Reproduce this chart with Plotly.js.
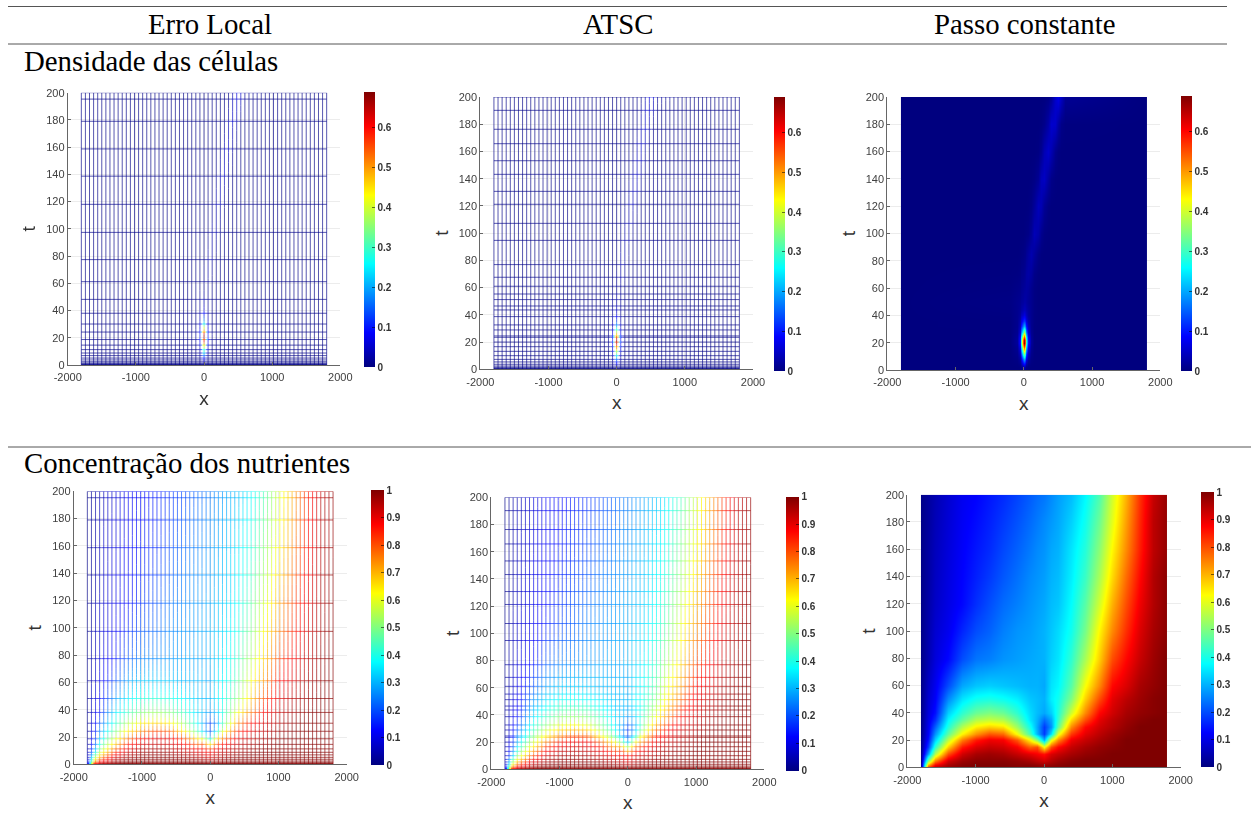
<!DOCTYPE html>
<html><head><meta charset="utf-8">
<script src="https://cdn.plot.ly/plotly-3.0.1.min.js"></script>
<style>html,body{margin:0;padding:0;background:#fff}#g{width:1256px;height:839px}</style>
</head><body><div id="g"></div>
<script>
const columnTitles = ['Erro Local','ATSC','Passo constante'];
const rowTitles = ['Densidade das células','Concentração dos nutrientes'];
const xTickVals = [-2000,-1000,0,1000,2000];
const xTickText = ['-2000','-1000','0','1000','2000'];
const tTickVals = [0,20,40,60,80,100,120,140,160,180,200];

// spatial mesh shown in the adaptive panels
const meshX = [-1800,-1740,-1680,-1620,-1560,-1500,-1440,-1380,-1320,-1260,-1200,-1140,-1080,-1020,-960,-900,-840,-780,-720,-660,-600,-540,-480,-420,-360,-300,-240,-180,-120,-60,0,60,120,180,240,300,360,420,480,540,600,660,720,780,840,900,960,1020,1080,1140,1200,1260,1320,1380,1440,1500,1560,1620,1680,1740,1800];
// time levels of each adaptive method
const timesErroLocal = [0,0.2,0.5,0.9,1.5,2.4,3.7,5.1,6.9,8.8,11.3,14.6,18.7,24.2,30.1,38,48.2,61.2,77.4,97.4,118,138.7,158.7,179,195.3,200];
const timesATSC = [0,0.2,0.5,0.9,1.5,2.4,3.7,5.4,7.3,10,13.2,16.6,20,23.5,24.5,28.9,32.6,38.7,43.6,46.5,51.2,55.3,61,67.6,76.9,94.7,107.2,121.2,130.7,143.2,153.2,165.7,176.3,190.2,200];

// cell density
const densityX = [-1800,-200,-100,-60,-35,-15,0,15,35,60,100,150,200,250,300,350,400,450,500,550,600,1800];
const densityT = [0,2,4,8,12,16,20,22,24,28,32,36,40,44,50,60,70,85,100,120,140,160,180,200];
const densityRows = [
[0,0,0,0,.001,.005,.01,.005,.001,0,0,0,0,0,0,0,0,0,0,0,0,0],
[0,0,0,.001,.006,.02,.03,.02,.006,.001,0,0,0,0,0,0,0,0,0,0,0,0],
[0,0,.001,.005,.02,.055,.07,.055,.02,.005,.001,0,0,0,0,0,0,0,0,0,0,0],
[0,0,.004,.02,.07,.16,.2,.16,.07,.02,.004,0,0,0,0,0,0,0,0,0,0,0],
[0,0,.008,.04,.13,.28,.34,.28,.13,.04,.008,0,0,0,0,0,0,0,0,0,0,0],
[0,0,.012,.07,.22,.43,.52,.43,.22,.07,.012,0,0,0,0,0,0,0,0,0,0,0],
[0,0,.018,.1,.3,.56,.68,.56,.3,.1,.018,0,0,0,0,0,0,0,0,0,0,0],
[0,0,.018,.1,.3,.55,.66,.55,.3,.1,.018,0,0,0,0,0,0,0,0,0,0,0],
[0,0,.016,.09,.26,.46,.55,.46,.26,.09,.016,0,0,0,0,0,0,0,0,0,0,0],
[0,0,.012,.06,.17,.3,.36,.3,.17,.06,.012,0,0,0,0,0,0,0,0,0,0,0],
[0,.001,.01,.04,.1,.17,.2,.17,.1,.04,.01,.001,0,0,0,0,0,0,0,0,0,0],
[0,.001,.01,.03,.065,.105,.12,.105,.065,.03,.01,.002,0,0,0,0,0,0,0,0,0,0],
[0,.002,.01,.02,.04,.055,.065,.055,.04,.02,.01,.002,0,0,0,0,0,0,0,0,0,0],
[0,.003,.01,.016,.025,.035,.04,.038,.03,.02,.01,.003,0,0,0,0,0,0,0,0,0,0],
[0,.004,.01,.013,.018,.022,.026,.026,.022,.016,.01,.003,0,0,0,0,0,0,0,0,0,0],
[0,.002,.006,.008,.012,.016,.018,.02,.022,.02,.01,.003,0,0,0,0,0,0,0,0,0,0],
[0,.001,.002,.004,.008,.01,.012,.016,.022,.026,.02,.006,.001,0,0,0,0,0,0,0,0,0],
[0,0,0,.001,.002,.004,.006,.008,.014,.022,.032,.02,.006,.001,0,0,0,0,0,0,0,0],
[0,0,0,0,0,0,.001,.002,.003,.005,.016,.038,.028,.01,.002,0,0,0,0,0,0,0],
[0,0,0,0,0,0,0,0,0,.001,.005,.018,.04,.034,.014,.003,0,0,0,0,0,0],
[0,0,0,0,0,0,0,0,0,0,.001,.004,.014,.04,.046,.022,.006,.001,0,0,0,0],
[0,0,0,0,0,0,0,0,0,0,0,0,.002,.012,.036,.05,.034,.01,.002,0,0,0],
[0,0,0,0,0,0,0,0,0,0,0,0,0,.002,.008,.026,.052,.05,.024,.006,.001,0],
[0,0,0,0,0,0,0,0,0,0,0,0,0,0,.001,.004,.014,.05,.068,.045,.014,0]
];

// nutrient concentration (one list per x)
const nutrientT = [0,2,5,10,15,20,25,30,35,40,50,60,80,100,120,140,160,180,200];
const nutrientX = [-1800,-1700,-1600,-1400,-1200,-1000,-800,-600,-400,-200,-100,0,100,200,400,600,800,1000,1200,1400,1600,1800];
const nutrientColumns = [
[0,.03,.02,.02,.015,.015,.01,.01,.01,.01,.01,.01,.01,.01,.01,.01,.01,.01,.01],
[.85,.7,.5,.28,.18,.14,.12,.11,.1,.09,.08,.07,.05,.045,.04,.035,.035,.03,.03],
[.95,.88,.75,.55,.42,.33,.27,.22,.17,.14,.12,.11,.09,.08,.07,.065,.06,.055,.05],
[.98,.96,.92,.8,.67,.56,.47,.41,.37,.33,.26,.2,.13,.11,.1,.095,.09,.085,.08],
[1,.99,.97,.92,.85,.75,.63,.55,.47,.42,.35,.29,.2,.16,.13,.125,.12,.115,.11],
[1,1,.99,.96,.91,.85,.73,.64,.55,.48,.39,.32,.24,.2,.17,.155,.145,.135,.125],
[1,1,.99,.97,.93,.89,.79,.67,.57,.5,.4,.33,.25,.22,.2,.18,.165,.155,.145],
[1,1,.99,.96,.92,.88,.77,.65,.55,.48,.385,.32,.27,.25,.23,.21,.195,.18,.165],
[1,.99,.98,.93,.88,.79,.62,.53,.47,.42,.36,.31,.28,.27,.25,.235,.22,.205,.19],
[1,.99,.96,.9,.78,.63,.44,.39,.35,.34,.32,.3,.29,.28,.27,.26,.245,.23,.215],
[1,.98,.94,.88,.8,.5,.3,.29,.3,.31,.31,.3,.295,.29,.28,.27,.26,.245,.23],
[.99,.97,.92,.86,.62,.3,.18,.18,.23,.29,.3,.29,.3,.3,.29,.28,.27,.26,.24],
[1,.98,.95,.91,.8,.6,.35,.27,.29,.33,.36,.35,.33,.32,.31,.3,.29,.275,.26],
[1,.99,.97,.93,.87,.74,.6,.47,.43,.41,.39,.37,.35,.34,.32,.31,.3,.29,.28],
[1,1,.99,.96,.93,.89,.82,.74,.66,.58,.5,.46,.42,.39,.375,.36,.35,.33,.31],
[1,1,1,.98,.96,.93,.9,.87,.8,.74,.67,.62,.54,.49,.46,.43,.41,.39,.37],
[1,1,1,.99,.98,.96,.94,.92,.9,.87,.8,.74,.67,.63,.58,.54,.51,.48,.45],
[1,1,1,1,.99,.98,.97,.95,.94,.92,.9,.87,.8,.74,.7,.66,.63,.6,.58],
[1,1,1,1,1,1,.99,.98,.97,.96,.94,.91,.87,.83,.8,.77,.74,.72,.7],
[1,1,1,1,1,1,1,1,.99,.98,.97,.96,.93,.91,.89,.87,.85,.84,.83],
[1,1,1,1,1,1,1,1,1,.99,.99,.98,.97,.96,.95,.95,.94,.94,.93],
[1,1,1,1,1,1,1,1,1,1,1,1,1,.99,.99,.99,.98,.98,.98]
];
const densityMax = 0.69;
const nutrientMax = 1;

const W = 1256, H = 839;
const jetStops = [[0,[0,0,127]],[.125,[0,0,255]],[.375,[0,255,255]],[.625,[255,255,0]],[.875,[255,0,0]],[1,[127,0,0]]];
const jet = jetStops.map(s=>[s[0],'rgb('+s[1].join(',')+')']);
const nutrientRows = nutrientT.map((_,j)=>nutrientColumns.map(c=>c[j]));

// pixel frames: plot left,right,top,bottom; colourbar left,width,top,bottom
const frames = [
 {l:67.7,r:340.3,t:92.7,b:365,  cl:364.3,cw:11.4,ct:92.3,cb:367,  f:'d',mesh:timesErroLocal},
 {l:480.3,r:753,t:97,b:369.3,   cl:774.3,cw:11.4,ct:96.7,cb:371,  f:'d',mesh:timesATSC},
 {l:887.3,r:1160.3,t:97,b:370,  cl:1180.7,cw:11.4,ct:96,cb:371,   f:'d',mesh:null},
 {l:73.7,r:346.7,t:491.3,b:764.3, cl:371,cw:12.7,ct:490.7,cb:765.3, f:'n',mesh:timesErroLocal},
 {l:491.3,r:764.3,t:497.3,b:769.3, cl:786.3,cw:13,ct:496.7,cb:770.7, f:'n',mesh:timesATSC},
 {l:907.3,r:1180.7,t:494.7,b:767.3, cl:1201,cw:13,ct:492.7,cb:767.3, f:'n',mesh:null}
];

// repeat the outer samples just inside the edge so the image stops at the domain limits
const padAxis = a => [a[0], a[0]+0.01].concat(a.slice(1,-1), [a[a.length-1]-0.01, a[a.length-1]]);
const padRow = r => [r[0], r[0]].concat(r.slice(1,-1), [r[r.length-1], r[r.length-1]]);
const padGrid = rows => padRow(rows.map(padRow));

function seek(a,v){let i=0;while(i<a.length-2&&a[i+1]<v)i++;return [i,Math.max(0,Math.min(1,(v-a[i])/(a[i+1]-a[i])))];}
function sample(X,T,Z,x,t){
  const [i,u]=seek(X,x),[j,w]=seek(T,t);
  return (1-w)*((1-u)*Z[j][i]+u*Z[j][i+1])+w*((1-u)*Z[j+1][i]+u*Z[j+1][i+1]);
}
function jetColor(f,alpha){
  let k=0;while(k<jetStops.length-2&&jetStops[k+1][0]<f)k++;
  const a=jetStops[k],b=jetStops[k+1],u=(f-a[0])/(b[0]-a[0]);
  const c=a[1].map((v,n)=>Math.round(v+(b[1][n]-v)*u));
  return 'rgba('+c.join(',')+','+alpha+')';
}
const LEVELS = 64;
// one line trace per colour level; every mesh line is cut where its level changes
function meshTraces(X,T,Z,zmax,times,xk,yk){
  const bins=[...Array(LEVELS)].map(()=>({x:[],y:[]}));
  const walk=pts=>{
    let run=null,lev=-1;
    pts.forEach((p,n)=>{
      const m=n<pts.length-1?[(p[0]+pts[n+1][0])/2,(p[1]+pts[n+1][1])/2]:p;
      const l=Math.min(LEVELS-1,Math.floor(sample(X,T,Z,m[0],m[1])/zmax*LEVELS));
      if(l!==lev||n===pts.length-1){
        if(run){run.x.push(p[0],null);run.y.push(p[1],null);}
        if(n<pts.length-1){run=bins[l];run.x.push(p[0]);run.y.push(p[1]);lev=l;}
      }
    });
  };
  times.forEach(t=>{
    const pts=[];
    for(let i=0;i<meshX.length-1;i++){pts.push([meshX[i],t]);pts.push([(meshX[i]+meshX[i+1])/2,t]);}
    pts.push([meshX[meshX.length-1],t]);walk(pts);
  });
  meshX.forEach(x=>{
    const pts=[];
    for(let j=0;j<times.length-1;j++){
      const steps=Math.max(1,Math.ceil((times[j+1]-times[j])/2.5));
      for(let s=0;s<steps;s++)pts.push([x,times[j]+(times[j+1]-times[j])*s/steps]);
    }
    pts.push([x,times[times.length-1]]);walk(pts);
  });
  return bins.map((b,l)=>b.x.length?{type:'scatter',mode:'lines',xaxis:xk,yaxis:yk,x:b.x,y:b.y,hoverinfo:'skip',
    line:{color:jetColor((l+.5)/LEVELS,.66),width:1,simplify:false},connectgaps:false,showlegend:false}:null).filter(Boolean);
}

const traces = [];
const layout = {
  width:W, height:H, margin:{l:0,r:0,t:0,b:0}, paper_bgcolor:'#fff', plot_bgcolor:'#fff',
  showlegend:false, shapes:[], annotations:[],
  font:{family:'"Liberation Sans", Arial, sans-serif',color:'#404040'}
};

frames.forEach((p,i)=>{
  const n = i+1, xk = n===1?'x':'x'+n, yk = n===1?'y':'y'+n;
  const isD = p.f==='d';
  const X=isD?densityX:nutrientX, T=isD?densityT:nutrientT, Z=isD?densityRows:nutrientRows, zmax=isD?densityMax:nutrientMax;
  traces.push({
    type:'heatmap', xaxis:xk, yaxis:yk, zsmooth:'best', hoverinfo:'skip',
    opacity:p.mesh?0:1,
    x:padAxis(X), y:padAxis(T), z:padGrid(Z),
    zmin:0, zmax, colorscale:jet,
    colorbar:{x:p.cl/W, xanchor:'left', xpad:0, ypad:0, thicknessmode:'pixels', thickness:p.cw,
      lenmode:'fraction', len:(p.cb-p.ct)/H, y:1-p.cb/H, yanchor:'bottom',
      outlinewidth:0, ticks:'inside', ticklen:3, tickwidth:1, tickcolor:'rgba(0,0,0,.55)',
      tick0:0, dtick:.1, tickfont:{size:10,color:'#333',family:'"Liberation Sans", Arial, sans-serif',weight:700}}
  });
  if(p.mesh) traces.push(...meshTraces(X,T,Z,zmax,p.mesh,xk,yk));
  const ax = {showline:true, linecolor:'#666', linewidth:1, showgrid:true, gridcolor:'#ececec', gridwidth:1,
    ticks:'inside', ticklen:3, tickcolor:'#666', zeroline:false, fixedrange:true, tickfont:{size:11,color:'#404040'}};
  layout['xaxis'+(n===1?'':n)] = Object.assign({},ax,{domain:[p.l/W,p.r/W], anchor:yk, range:[-2000,2000],
    tickmode:'array', tickvals:xTickVals, ticktext:xTickText, ticklabelstandoff:2,
    title:{text:'x',font:{size:19,color:'#333'},standoff:9}});
  layout['yaxis'+(n===1?'':n)] = Object.assign({},ax,{domain:[1-p.b/H,1-p.t/H], anchor:xk, range:[0,200],
    tickmode:'array', tickvals:tTickVals, ticktext:tTickVals.map(String),
    title:{text:'t',font:{size:19,color:'#333'},standoff:5}});
});

const hline = (x0,x1,y)=>({type:'line',xref:'paper',yref:'paper',x0:x0/W,x1:x1/W,y0:1-y/H,y1:1-y/H,line:{color:'#555',width:1}});
layout.shapes.push(hline(8,1227,6.5),hline(8,1227,44),hline(8,1251,447));
const head = (text,x,y,anchor)=>({text,xref:'paper',yref:'paper',x:x/W,y:1-y/H,xanchor:anchor,yanchor:'middle',showarrow:false,
  font:{family:'"Liberation Serif","Times New Roman",serif',size:28.8,color:'#000'}});
layout.annotations.push(head(columnTitles[0],210,24,'center'),head(columnTitles[1],618,24,'center'),head(columnTitles[2],1025,24,'center'),
  head(rowTitles[0],22,61,'left'),head(rowTitles[1],22,463,'left'));

Plotly.newPlot('g',traces,layout,{displayModeBar:false,staticPlot:true}).then(()=>{
  document.querySelectorAll('.heatmaplayer,.scatterlayer').forEach(e=>{e.style.filter='blur(0.35px)';});
  document.querySelectorAll('.xaxislayer-above,.yaxislayer-above,.g-xtitle,.g-ytitle,.cbaxis').forEach(e=>{e.style.filter='blur(0.3px)';});
});
</script></body></html>
